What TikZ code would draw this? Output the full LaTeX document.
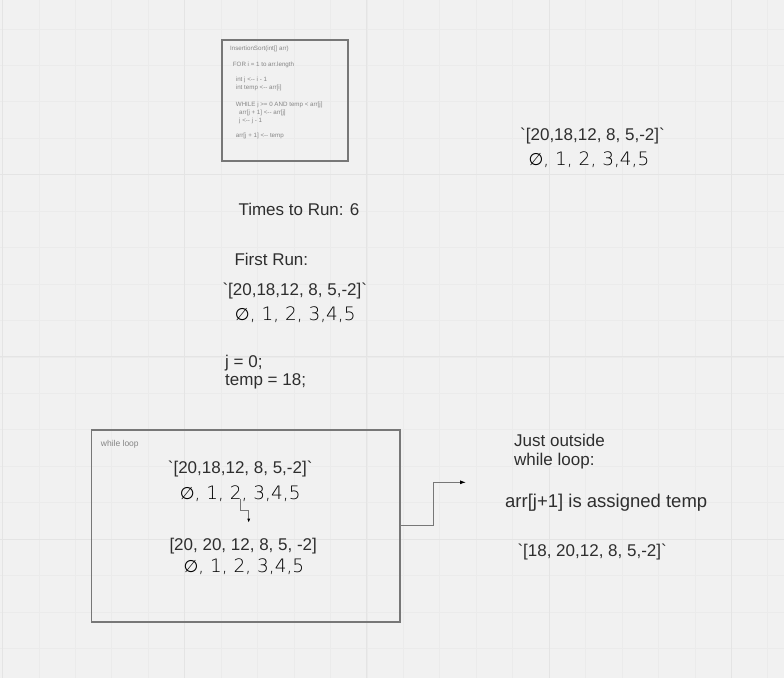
\documentclass[tikz,border=0pt]{standalone}
\usepackage{fontspec}
\newfontfamily\arial{Liberation Sans}
\newfontfamily\handfont{DejaVuSans-ExtraLight.ttf}
\newfontfamily\handsym{DejaVu Sans}
\newcommand{\emptyglyph}{{\handsym\fontsize{17}{19}\selectfont ∅}}
\usetikzlibrary{arrows.meta}
\definecolor{bg}{HTML}{F1F1F1}
\definecolor{gridminor}{HTML}{EBEBEB}
\definecolor{gridmajor}{HTML}{E4E4E4}
\definecolor{ink}{HTML}{2E2E2E}
\definecolor{boxline}{HTML}{777777}
\definecolor{codeink}{HTML}{858585}
\begin{document}
\begin{tikzpicture}[x=1pt,y=-1pt,
  txt/.style={text=ink, inner sep=0pt, anchor=base west, font=\arial\fontsize{17}{19}\selectfont},
  hand/.style={text=black, inner sep=0pt, anchor=base, font=\handfont\fontsize{18.5}{21}\selectfont},
  code/.style={text=codeink, inner sep=0pt, anchor=base west, font=\arial\fontsize{6.2}{7}\selectfont},
  frame/.style={draw=boxline, line width=1.5pt, inner sep=0pt, anchor=north west},
  conn/.style={draw=boxline, line width=0.9pt, -{Latex[length=6pt,width=4pt,color=black]}},
  smallconn/.style={draw=boxline, line width=0.8pt, -{Latex[length=4pt,width=3pt,color=black]}}
]
\useasboundingbox (0,0) rectangle (784,678);
\fill[bg] (0,0) rectangle (784,678);
% grid
\foreach \i in {0,...,21}{\draw[gridminor, line width=0.7pt] ({2.5+36.44*\i},0) -- ({2.5+36.44*\i},678);}
\foreach \i in {1,...,18}{\draw[gridminor, line width=0.7pt] (0,{-7.5+36.44*\i}) -- (784,{-7.5+36.44*\i});}
\foreach \i in {0,5,10,15,20}{\draw[gridmajor, line width=0.9pt] ({2.5+36.44*\i},0) -- ({2.5+36.44*\i},678);}
\foreach \i in {5,10,15}{\draw[gridmajor, line width=0.9pt] (0,{-7.5+36.44*\i}) -- (784,{-7.5+36.44*\i});}

% pseudocode box
\node[frame, minimum width=126pt, minimum height=121pt] (codebox) at (221,39) {};
\node[code] (c1) at (230,50.3) {InsertionSort(int[] arr)};
\node[code] (c2) at (232.7,66) {FOR i = 1 to arr.length};
\node[code] (c3) at (235.7,81.3) {int j <{-}{-} i - 1};
\node[code] (c4) at (235.7,89.3) {int temp <{-}{-} arr[i]};
\node[code] (c5) at (235.7,106.3) {WHILE j >= 0 AND temp < arr[j]};
\node[code] (c6) at (239,114) {arr[j + 1] <{-}{-} arr[j]};
\node[code] (c7) at (239,122) {j <{-}{-} j - 1};
\node[code] (c8) at (235.7,137.7) {arr[j + 1] <{-}{-} temp};

% top right
\node[txt, anchor=base] (arrTop) at (592.5,140) {`[20,18,12, 8, 5,-2]`};
\node[hand] (idxTop) at (589,165) {\emptyglyph, 1, 2, 3,4,5};

% first run
\node[txt] (times) at (238.3,215) {Times to Run: 6};
\node[txt] (first) at (234.3,265) {First Run:};
\node[txt] (arrFirst) at (222.3,295) {`[20,18,12, 8, 5,-2]`};
\node[hand] (idxFirst) at (295.3,320) {\emptyglyph, 1, 2, 3,4,5};
\node[txt] (jzero) at (225,367) {j = 0;};
\node[txt] (temp) at (225,385.5) {temp = 18;};

% while loop box
\node[frame, minimum width=308.6pt, minimum height=191.7pt] (wbox) at (90.7,429.3) {};
\node[text=codeink, inner sep=0pt, anchor=base west, font=\arial\fontsize{8.5}{10}\selectfont] (wlabel) at (100.7,446) {while loop};
\node[txt] (arrW1) at (167.7,473.3) {`[20,18,12, 8, 5,-2]`};
\node[hand] (idxW1) at (240.2,499) {\emptyglyph, 1, 2, 3,4,5};
\node[txt] (arrW2) at (169.3,550) {[20, 20, 12, 8, 5, -2]};
\node[hand] (idxW2) at (243.9,572) {\emptyglyph, 1, 2, 3,4,5};
\coordinate (sa) at (240,499.3);
\coordinate (sb) at (248.7,522.7);
\draw[smallconn] (sa) -- ++(0,11.4) -| (sb);

% right side
\coordinate (connEnd) at (466,482.3);
\draw[conn] (wbox.east) -- ++(33,0) |- (connEnd);
\node[txt] (just1) at (514,446) {Just outside};
\node[txt] (just2) at (514,465) {while loop:};
\node[txt, font=\arial\fontsize{18.5}{21}\selectfont] (assign) at (505,507.3) {arr[j+1] is assigned temp};
\node[txt] (arrOut) at (517.3,556.7) {`[18, 20,12, 8, 5,-2]`};
\end{tikzpicture}
\end{document}
